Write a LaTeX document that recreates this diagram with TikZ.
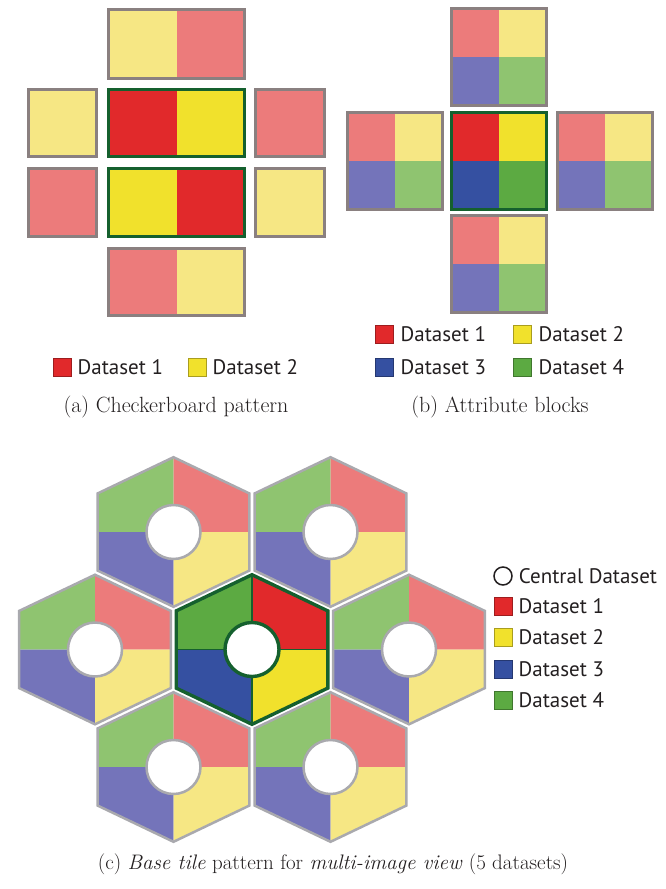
\documentclass[tikz,border=0pt]{standalone}
\usepackage{fontspec}
\usepackage{xcolor}
\usetikzlibrary{positioning}
\newfontfamily\legendfont{PT Sans}
\definecolor{cpinkl}{HTML}{EC7B7B}
\definecolor{cyellowl}{HTML}{F6E784}
\definecolor{cpurplel}{HTML}{7474BA}
\definecolor{cgreenl}{HTML}{8FC470}
\definecolor{cred}{HTML}{E1292B}
\definecolor{cyellow}{HTML}{F1E12C}
\definecolor{cblue}{HTML}{3550A1}
\definecolor{cgreen}{HTML}{5CAA42}
\definecolor{cdkgreen}{HTML}{15602E}
\definecolor{cframe}{HTML}{8A8080}
\definecolor{chexgray}{HTML}{A9A9AE}
\definecolor{ctextd}{HTML}{231F20}
\tikzset{
  tilebox/.style={draw=cframe, line width=3pt},
  corebox/.style={draw=cdkgreen, line width=3.2pt},
  hexedge/.style={draw=chexgray, line width=2.5pt},
  hubedge/.style={draw=cdkgreen, line width=3.4pt},
  hubsplit/.style={draw=cdkgreen, line width=1.4pt},
  swatch/.style={draw=#1!70!black, fill=#1, line width=0.8pt,
    minimum size=18pt, inner sep=0pt},
  keylbl/.style={font=\legendfont\fontsize{21}{24}\selectfont,
    text=ctextd, inner sep=0pt, anchor=west},
  subcap/.style={font=\fontsize{22}{26}\selectfont, text=ctextd, inner sep=0pt},
}
% 2x2 attribute block: centre x, centre y, TL, TR, BL, BR, edge style
\newcommand\attrblock[7]{%
  \begin{scope}[shift={(#1,#2)}]
    \fill[#3] (-47.5,-48.5) rectangle (0,0);
    \fill[#4] (0,-48.5) rectangle (47.5,0);
    \fill[#5] (-47.5,0) rectangle (0,48.5);
    \fill[#6] (0,0) rectangle (47.5,48.5);
    \draw[#7] (-47.5,-48.5) rectangle (47.5,48.5);
  \end{scope}}
% hexagonal base tile: centre x, centre y, TL, TR, BL, BR, edge style, split style
\newcommand\hextile[8]{%
  \begin{scope}[shift={(#1,#2)}]
    \fill[#3] (0,0) -- (-75.8,0) -- (-75.8,-38.6) -- (0,-74.8) -- cycle;
    \fill[#4] (0,0) -- (0,-74.8) -- (75.8,-38.6) -- (75.8,0) -- cycle;
    \fill[#5] (0,0) -- (-75.8,0) -- (-75.8,38.6) -- (0,74.8) -- cycle;
    \fill[#6] (0,0) -- (75.8,0) -- (75.8,38.6) -- (0,74.8) -- cycle;
    \draw[#8] (0,-74.8) -- (0,74.8) (-75.8,0) -- (75.8,0);
    \draw[#7] (0,-74.8) -- (75.8,-38.6) -- (75.8,38.6) -- (0,74.8)
      -- (-75.8,38.6) -- (-75.8,-38.6) -- cycle;
    \draw[#7, fill=white] (0,0) circle[radius=27pt];
  \end{scope}}

\begin{document}
\begin{tikzpicture}[x=1pt, y=-1pt]
\useasboundingbox (0,0) rectangle (665,889);

%% ── (a) CHECKERBOARD ──────────────────────────────────────
% top row
\fill[cyellowl] (108.5,9.5) rectangle (176.5,78.5);
\fill[cpinkl]   (176.5,9.5) rectangle (244.5,78.5);
\draw[tilebox]  (108.5,9.5) rectangle (244.5,78.5);
% middle rows
\draw[tilebox, fill=cyellowl] (28.5,89.5) rectangle (96.5,156.5);
\fill[cred]     (108.5,89.5) rectangle (176.5,156.5);
\fill[cyellow]  (176.5,89.5) rectangle (244.5,156.5);
\draw[corebox]  (108.5,89.5) rectangle (244.5,156.5);
\draw[tilebox, fill=cpinkl] (255.5,89.5) rectangle (324.5,156.5);

\draw[tilebox, fill=cpinkl] (28.5,168.5) rectangle (96.5,236.5);
\fill[cyellow]  (108.5,168.5) rectangle (176.5,236.5);
\fill[cred]     (176.5,168.5) rectangle (244.5,236.5);
\draw[corebox]  (108.5,168.5) rectangle (244.5,236.5);
\draw[tilebox, fill=cyellowl] (255.5,168.5) rectangle (324.5,236.5);
% bottom row
\fill[cpinkl]   (108.5,248.5) rectangle (176.5,315.5);
\fill[cyellowl] (176.5,248.5) rectangle (244.5,315.5);
\draw[tilebox]  (108.5,248.5) rectangle (244.5,315.5);

% legend
\node[swatch=cred] (a-key1) at (62,367) {};
\node[keylbl, right=6pt of a-key1] (a-lbl1) {Dataset 1};
\node[swatch=cyellow] (a-key2) at (197,367) {};
\node[keylbl, right=6pt of a-key2] (a-lbl2) {Dataset 2};

\node[subcap] (cap-a) at (176,407) {(a) Checkerboard pattern};

%% ── (b) ATTRIBUTE BLOCKS ──────────────────────────────────
\attrblock{499}{57}{cpinkl}{cyellowl}{cpurplel}{cgreenl}{tilebox}
\attrblock{394.5}{161}{cpinkl}{cyellowl}{cpurplel}{cgreenl}{tilebox}
\attrblock{499}{161}{cred}{cyellow}{cblue}{cgreen}{corebox}
\attrblock{604.5}{161}{cpinkl}{cyellowl}{cpurplel}{cgreenl}{tilebox}
\attrblock{499}{264}{cpinkl}{cyellowl}{cpurplel}{cgreenl}{tilebox}

% legend
\node[swatch=cred] (b-key1) at (384,334) {};
\node[keylbl, right=7pt of b-key1] (b-lbl1) {Dataset 1};
\node[swatch=cyellow] (b-key2) at (522,334) {};
\node[keylbl, right=7pt of b-key2] (b-lbl2) {Dataset 2};
\node[swatch=cblue] (b-key3) at (384,367) {};
\node[keylbl, right=7pt of b-key3] (b-lbl3) {Dataset 3};
\node[swatch=cgreen] (b-key4) at (522,367) {};
\node[keylbl, right=7pt of b-key4] (b-lbl4) {Dataset 4};

\node[subcap] (cap-b) at (500,407) {(b) Attribute blocks};

%% ── (c) HEXAGONAL BASE TILE ───────────────────────────────
\hextile{173.5}{532}{cgreenl}{cpinkl}{cpurplel}{cyellowl}{hexedge}{draw=none}
\hextile{330.5}{532}{cgreenl}{cpinkl}{cpurplel}{cyellowl}{hexedge}{draw=none}
\hextile{95}{649.5}{cgreenl}{cpinkl}{cpurplel}{cyellowl}{hexedge}{draw=none}
\hextile{409}{649.5}{cgreenl}{cpinkl}{cpurplel}{cyellowl}{hexedge}{draw=none}
\hextile{173.5}{767}{cgreenl}{cpinkl}{cpurplel}{cyellowl}{hexedge}{draw=none}
\hextile{330.5}{767}{cgreenl}{cpinkl}{cpurplel}{cyellowl}{hexedge}{draw=none}
\hextile{252}{649.5}{cgreen}{cred}{cblue}{cyellow}{hubedge}{hubsplit}

% legend
\node[draw=ctextd, line width=1.5pt, circle, minimum size=18pt,
      inner sep=0pt] (c-hub) at (503,576) {};
\node[keylbl, right=6pt of c-hub] (c-lbl0) {Central Dataset};
\node[swatch=cred] (c-key1) at (503,606) {};
\node[keylbl, right=6pt of c-key1] (c-lbl1) {Dataset 1};
\node[swatch=cyellow] (c-key2) at (503,637) {};
\node[keylbl, right=6pt of c-key2] (c-lbl2) {Dataset 2};
\node[swatch=cblue] (c-key3) at (503,669) {};
\node[keylbl, right=6pt of c-key3] (c-lbl3) {Dataset 3};
\node[swatch=cgreen] (c-key4) at (503,700) {};
\node[keylbl, right=6pt of c-key4] (c-lbl4) {Dataset 4};

\node[subcap, font=\fontsize{21}{25}\selectfont] (cap-c) at (333,864)
  {(c) \textit{Base tile} pattern for \textit{multi-image view} (5 datasets)};

\end{tikzpicture}
\end{document}
